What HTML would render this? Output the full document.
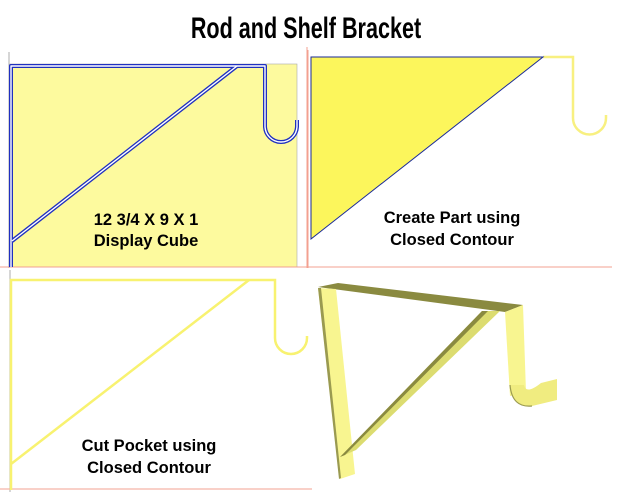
<!DOCTYPE html>
<html><head><style>
body{margin:0;background:#fff;width:619px;height:497px;overflow:hidden}
svg{position:absolute;left:0;top:0}
</style></head><body>
<svg width="619" height="497" viewBox="0 0 619 497" xmlns="http://www.w3.org/2000/svg">
<text x="0" y="38" text-anchor="middle" font-family="'Liberation Sans Narrow','Liberation Sans',sans-serif" font-weight="bold" font-size="30" transform="translate(306 0) scale(0.72 1)">Rod and Shelf Bracket</text>
<!-- panel 1 -->
<rect x="10" y="64" width="287" height="203" fill="#fdfa9e" stroke="#aaa" stroke-width="0.6"/>
<line x1="9" y1="52" x2="9" y2="268" stroke="#999" stroke-width="0.8"/>
<line x1="307" y1="47" x2="307" y2="268" stroke="#f3a090" stroke-width="1"/>
<line x1="0" y1="267" x2="307" y2="267" stroke="#f3a090" stroke-width="1"/>
<g fill="none" stroke="#2030c0" stroke-width="4" stroke-linejoin="round">
<path d="M11 267 V66 H265 V126 A16 16 0 0 0 297 126 V120"/>
<path d="M12 241 L237 66"/>
</g>
<g fill="none" stroke="#fff" stroke-width="1.4" stroke-linejoin="round">
<path d="M11 267 V66 H265 V126 A16 16 0 0 0 297 126 V120"/>
<path d="M12 241 L237 66"/>
</g>
<g font-family="'Liberation Sans',sans-serif" font-weight="bold" font-size="16.5" text-anchor="middle">
<text x="146" y="225">12 3/4 X 9 X 1</text>
<text x="146" y="246">Display Cube</text>
</g>
<!-- panel 2 -->
<line x1="308" y1="50" x2="308" y2="268" stroke="#f3a090" stroke-width="1"/>
<line x1="308" y1="267" x2="612" y2="267" stroke="#f3a090" stroke-width="1"/>
<path d="M543 57 H573 V118 A16 16 0 0 0 606 118 V115" fill="none" stroke="#f8f080" stroke-width="2.5"/>
<polygon points="311,57 543,57 311,239" fill="#fcf65c" stroke="#1a2a9a" stroke-width="1"/>
<g font-family="'Liberation Sans',sans-serif" font-weight="bold" font-size="16.5" text-anchor="middle">
<text x="452" y="223">Create Part using</text>
<text x="452" y="245">Closed Contour</text>
</g>
<!-- panel 3 -->
<line x1="10" y1="270" x2="10" y2="492" stroke="#999" stroke-width="0.8"/>
<line x1="0" y1="489" x2="312" y2="489" stroke="#f3a090" stroke-width="1"/>
<g fill="none" stroke="#f8f270" stroke-width="2.5">
<path d="M11 490 V280 H275 V338 A16 16 0 0 0 307 338 V336"/>
<path d="M11 464 L249 280"/>
</g>
<g font-family="'Liberation Sans',sans-serif" font-weight="bold" font-size="16.5" text-anchor="middle">
<text x="149" y="451">Cut Pocket using</text>
<text x="149" y="473">Closed Contour</text>
</g>
<!-- panel 4: 3D bracket -->
<polygon points="318,287 338,283 523,305 505,312" fill="#8a8a40"/>
<polygon points="318,288 336,289 355,474 340,479" fill="#f8f590"/>
<polygon points="318,288 321,288 341,478 339,479" fill="#9a9a50"/>
<polygon points="340,457 356,450 500,311 482,311" fill="#dcdc70"/>
<polygon points="340,457 345,455 488,311 482,311" fill="#8a8a40"/>
<polygon points="505,312 523,305 526,392 510,396" fill="#f8f590"/>
<path d="M510 385 Q512 408 532 406 L557 400 L557 379 L541 383 Q526 395 524 385 Z" fill="#f0ec80"/>
<path d="M510 385 Q512 408 532 406" fill="none" stroke="#9a9a50" stroke-width="1.2"/>
</svg>
</body></html>
